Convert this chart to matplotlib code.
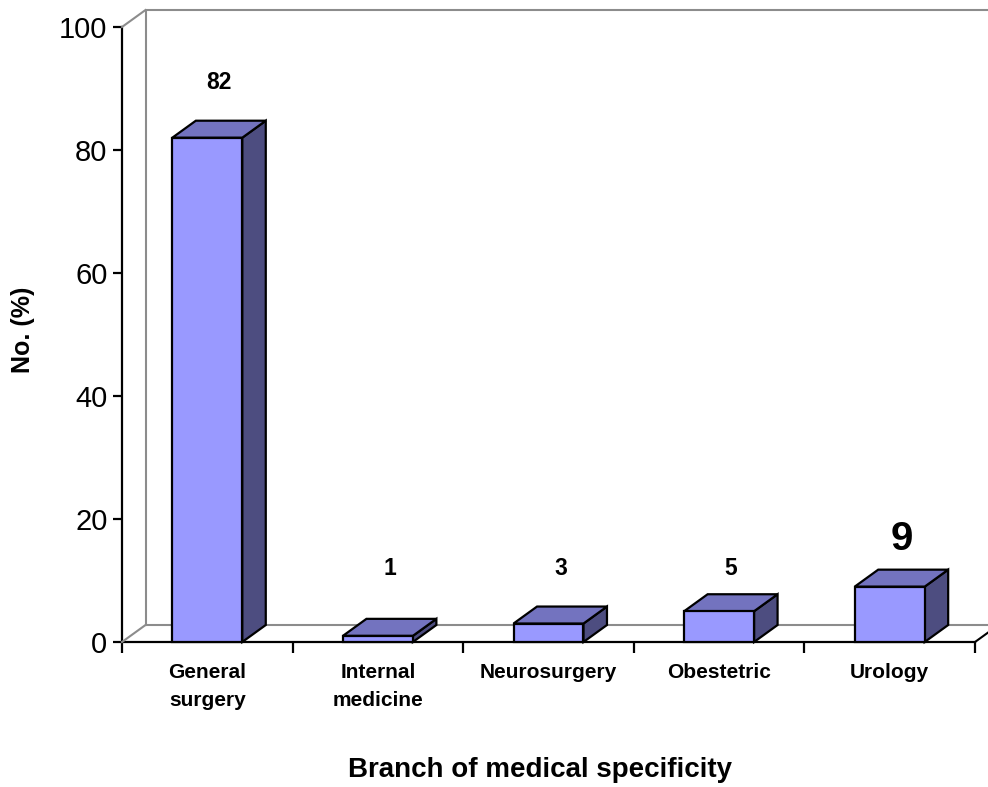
import numpy as np
import matplotlib
matplotlib.use("Agg")
import matplotlib.pyplot as plt
from matplotlib.patches import Polygon
from matplotlib.transforms import offset_copy
from matplotlib.lines import Line2D

categories = ["General\nsurgery", "Internal\nmedicine", "Neurosurgery", "Obestetric", "Urology"]
values = np.array([82, 1, 3, 5, 9])
y_ticks = [0, 20, 40, 60, 80, 100]

plt.rcParams['font.family'] = ['Liberation Sans', 'DejaVu Sans']

W, H, DPI = 988, 787, 100
fig = plt.figure(figsize=(W / DPI, H / DPI), dpi=DPI)
# front plane of the 3-D box
x0, x1, y0, y1 = 122, 975, 145, 760
ax = fig.add_axes([x0 / W, y0 / H, (x1 - x0) / W, (y1 - y0) / H])
ax.set_xlim(-0.5, len(categories) - 0.5)
ax.set_ylim(0, 100)
ax.patch.set_visible(False)

# depth offset of the 3-D effect (pixels)
DX, DY = 23.5, 17.0
back = offset_copy(ax.transData, fig=fig, x=DX, y=DY, units='dots')

front_color = '#9999FF'
top_color = '#7373BF'
side_color = '#4D4D80'
wall_color = '#8C8C8C'

xl, xr = -0.5, len(categories) - 0.5
# back wall and floor outlines
ax.add_line(Line2D([xl, xl, xr + 0.2], [0, 100, 100], transform=back, color=wall_color, lw=1.5, clip_on=False))
ax.add_line(Line2D([xl, xr + 0.2], [0, 0], transform=back, color=wall_color, lw=1.5, clip_on=False))

def diag(x, y, color):
    p0 = ax.transData.transform((x, y))
    p1 = p0 + np.array([DX, DY])
    fig.add_artist(Line2D([p0[0], p1[0]], [p0[1], p1[1]], transform=None, color=color, lw=1.5))

diag(xl, 100, wall_color)
diag(xl, 0, wall_color)
diag(xr, 0, 'black')

# bars drawn as front face, top face and side face
bw = 0.41
for i, v in enumerate(values):
    l, r = i - bw / 2, i + bw / 2
    fl = ax.transData.transform([(l, 0), (r, 0), (r, v), (l, v)])
    bk = fl + np.array([DX, DY])
    top = [fl[3], fl[2], bk[2], bk[3]]
    side = [fl[1], bk[1], bk[2], fl[2]]
    for pts, c in ((side, side_color), (top, top_color), (list(fl), front_color)):
        fig.add_artist(Polygon(pts, closed=True, transform=None, facecolor=c,
                               edgecolor='black', lw=1.6, joinstyle='miter', zorder=3))

# value labels
label_y = np.where(values > 6, values + 9, 12)
for i, v in enumerate(values):
    big = (i == len(values) - 1)
    ax.text(i + 0.07, label_y[i] - (1.2 if big else 0), f"{v}", ha='center', va='center',
            fontsize=29 if big else 16.5, fontweight='bold', zorder=5)

# axes styling
for s in ('top', 'right'):
    ax.spines[s].set_visible(False)
ax.spines['left'].set_linewidth(1.6)
ax.spines['bottom'].set_linewidth(1.6)
ax.set_yticks(y_ticks)
ax.tick_params(axis='y', labelsize=21, length=6.5, width=1.6, direction='out', pad=4)
ax.set_xticks(np.arange(-0.5, len(categories)), labels=[''] * (len(categories) + 1))
ax.tick_params(axis='x', which='major', length=8, width=1.6, direction='out')
ax.set_xticks(np.arange(len(categories)), minor=True)
ax.set_xticklabels(categories, minor=True, fontsize=15, fontweight='bold', linespacing=1.6)
ax.tick_params(axis='x', which='minor', length=0, pad=15)

fig.text(23 / W, 1 - 330 / H, "No. (%)", rotation=90, ha='center', va='center',
         fontsize=18, fontweight='bold')
fig.text(540 / W, 1 - 770 / H, "Branch of medical specificity", ha='center', va='center',
         fontsize=20, fontweight='bold')

fig.savefig("out.png", dpi=DPI)
